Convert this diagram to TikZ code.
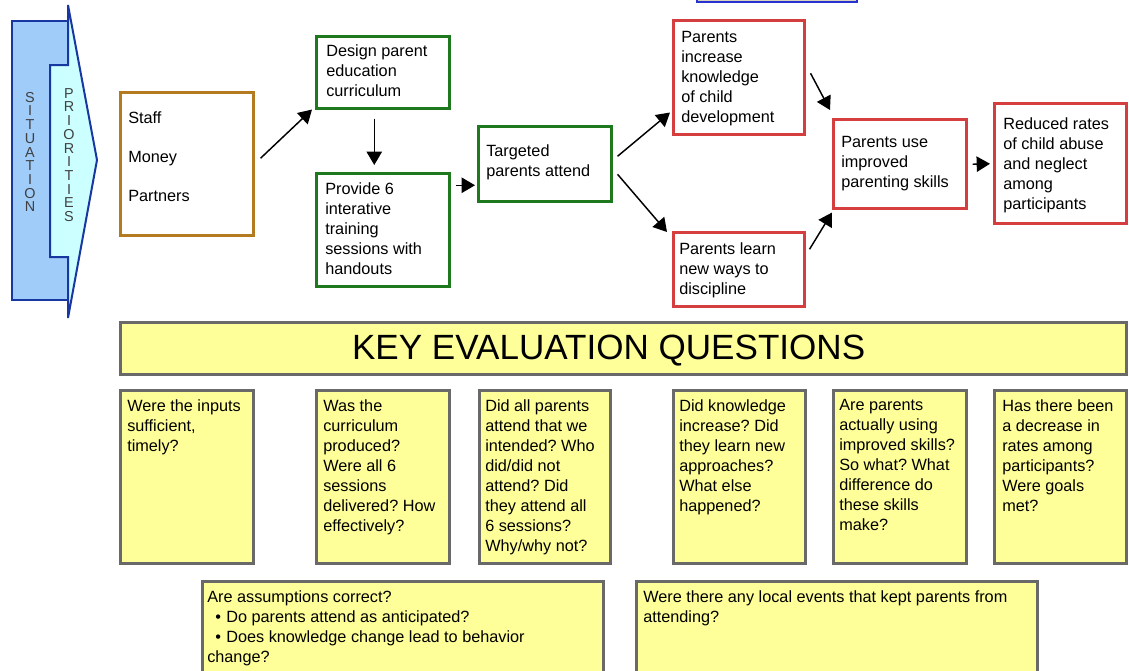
\documentclass[tikz,border=0pt]{standalone}
\usepackage{fontspec}
\setmainfont{Liberation Sans}
\usetikzlibrary{arrows.meta}
\frenchspacing
\definecolor{brownb}{RGB}{180,122,32}
\definecolor{greenb}{RGB}{30,120,30}
\definecolor{redb}{RGB}{212,62,62}
\definecolor{yel}{RGB}{255,255,153}
\definecolor{grayb}{RGB}{105,105,105}
\definecolor{darkblue}{RGB}{25,55,160}
\definecolor{sitfill}{RGB}{160,204,250}
\definecolor{prifill}{RGB}{204,255,255}
\definecolor{tanfill}{RGB}{215,210,190}
\definecolor{topblue}{RGB}{40,50,210}
\newcommand\mkbox[6]{\node[#2, minimum width={(#5-#3)*0.75pt}, minimum height={(#6-#4)*0.75pt}, anchor=north west, inner sep=0pt] (#1) at (#3,#4) {};}
\tikzset{
  inbox/.style={draw=brownb, line width=1.9pt, fill=white},
  actbox/.style={draw=greenb, line width=1.9pt, fill=white},
  outbox/.style={draw=redb, line width=1.9pt, fill=white},
  qbox/.style={draw=grayb, line width=2.4pt, fill=yel},
  txt/.style={anchor=north west, inner sep=0pt, align=left, font=\fontsize{12.2}{15}\selectfont\frenchspacing},
  letters/.style={inner sep=0pt, align=center, text=black!75, font=\fontsize{10.8}{10.3}\selectfont},
  arr/.style={line width=1.1pt, -{Triangle[length=10pt,width=11.5pt]}}
}
\begin{document}
\begin{tikzpicture}[x=0.75pt,y=-0.75pt]
\useasboundingbox (0,0) rectangle (1129,671);
\clip (0,0) rectangle (1129,671);
% top partial box
\draw[topblue, fill=tanfill, line width=1.5pt] (697,-20) rectangle (857,2);
% situation / priorities
\draw[darkblue, fill=sitfill, line width=1.5pt] (12,21) rectangle (68,300);
\draw[darkblue, fill=prifill, line width=1.5pt, line join=miter] (68,5) -- (97,160) -- (68,318) -- (68,257) -- (50,257) -- (50,65) -- (68,65) -- cycle;
\node[letters] (sit) at (30,152) {S\\I\\T\\U\\A\\T\\I\\O\\N};
\node[letters] (pri) at (69,155) {P\\R\\I\\O\\R\\I\\T\\I\\E\\S};
% flow boxes
\mkbox{in}{inbox}{119}{91}{252}{234}
\mkbox{design}{actbox}{315}{35}{448}{107}
\mkbox{provide}{actbox}{315}{172}{448}{285}
\mkbox{targeted}{actbox}{477}{125}{610}{200}
\mkbox{increase}{outbox}{672}{19}{803}{133}
\mkbox{learn}{outbox}{672}{231}{803}{305}
\mkbox{use}{outbox}{832}{118}{965}{207}
\mkbox{reduced}{outbox}{993}{102}{1125}{222}
\node[txt, font=\fontsize{12.2}{29.25}\selectfont] (t-in) at ([shift={(9,20)}]in.north west) {Staff\\Money\\Partners};
\node[txt] (t-design) at ([shift={(11,9)}]design.north west) {Design parent\\education\\curriculum};
\node[txt] (t-provide) at ([shift={(10,10)}]provide.north west) {Provide 6\\interative\\training\\sessions with\\handouts};
\node[txt] (t-targeted) at ([shift={(9,19)}]targeted.north west) {Targeted\\parents attend};
\node[txt] (t-increase) at ([shift={(9,12)}]increase.north west) {Parents\\increase\\knowledge\\of child\\development};
\node[txt] (t-learn) at ([shift={(7,11)}]learn.north west) {Parents learn\\new ways to\\discipline};
\node[txt] (t-use) at ([shift={(9,18)}]use.north west) {Parents use\\improved\\parenting skills};
\node[txt] (t-reduced) at ([shift={(10,15)}]reduced.north west) {Reduced rates\\of child abuse\\and neglect\\among\\participants};
% arrows
\draw[arr] ([shift={(6,-5.5)}]in.east) -- ([shift={(-3,0)}]design.south west);
\draw[arr] ([shift={(-8.5,9)}]design.south) -- ([shift={(-8.5,-7)}]provide.north);
\draw[arr] ([shift={(5,-44.5)}]provide.east) -- ([shift={(-2,21.5)}]targeted.west);
\draw[arr] ([shift={(5,-7.5)}]targeted.east) -- ([shift={(-2,-23)}]increase.south west);
\draw[arr] ([shift={(5,10.5)}]targeted.east) -- ([shift={(-5,1)}]learn.north west);
\draw[arr] ([shift={(5,-4)}]increase.east) -- ([shift={(-2,-8)}]use.north west);
\draw[arr] ([shift={(4,-20)}]learn.east) -- ([shift={(0,3)}]use.south west);
\draw[arr] ([shift={(5,0.5)}]use.east) -- ([shift={(-3,0.5)}]reduced.west);
% key evaluation questions
\mkbox{key}{qbox}{119}{321}{1125}{373}
\node[inner sep=0pt, font=\fontsize{26.3}{30}\selectfont] (t-key) at ([shift={(-15,1.5)}]key.center) {KEY EVALUATION QUESTIONS};
\mkbox{q1}{qbox}{119}{389}{252}{562}
\mkbox{q2}{qbox}{315}{389}{448}{562}
\mkbox{q3}{qbox}{478}{389}{609}{562}
\mkbox{q4}{qbox}{672}{389}{804}{562}
\mkbox{q5}{qbox}{832}{389}{965}{562}
\mkbox{q6}{qbox}{993}{389}{1125}{562}
\node[txt] (t-q1) at ([shift={(8,10)}]q1.north west) {Were the inputs\\sufficient,\\timely?};
\node[txt] (t-q2) at ([shift={(8,10)}]q2.north west) {Was the\\curriculum\\produced?\\Were all 6\\sessions\\delivered? How\\effectively?};
\node[txt] (t-q3) at ([shift={(7,10)}]q3.north west) {Did all parents\\attend that we\\intended? Who\\did/did not\\attend? Did\\they attend all\\6 sessions?\\Why/why not?};
\node[txt] (t-q4) at ([shift={(7,10)}]q4.north west) {Did knowledge\\increase? Did\\they learn new\\approaches?\\What else\\happened?};
\node[txt] (t-q5) at ([shift={(7,10)}]q5.north west) {Are parents\\actually using\\improved skills?\\So what? What\\difference do\\these skills\\make?};
\node[txt] (t-q6) at ([shift={(9,10)}]q6.north west) {Has there been\\a decrease in\\rates among\\participants?\\Were goals\\met?};
\mkbox{q7}{qbox}{201}{580}{602}{690}
\mkbox{q8}{qbox}{635}{580}{1036}{690}
\node[txt] (t-q7) at ([shift={(6,10)}]q7.north west) {Are assumptions correct?\\\hspace*{6pt}\textbullet\hspace{4pt}Do parents attend as anticipated?\\\hspace*{6pt}\textbullet\hspace{4pt}Does knowledge change lead to behavior\\change?};
\node[txt] (t-q8) at ([shift={(8,10)}]q8.north west) {Were there any local events that kept parents from\\attending?};
\end{tikzpicture}
\end{document}
